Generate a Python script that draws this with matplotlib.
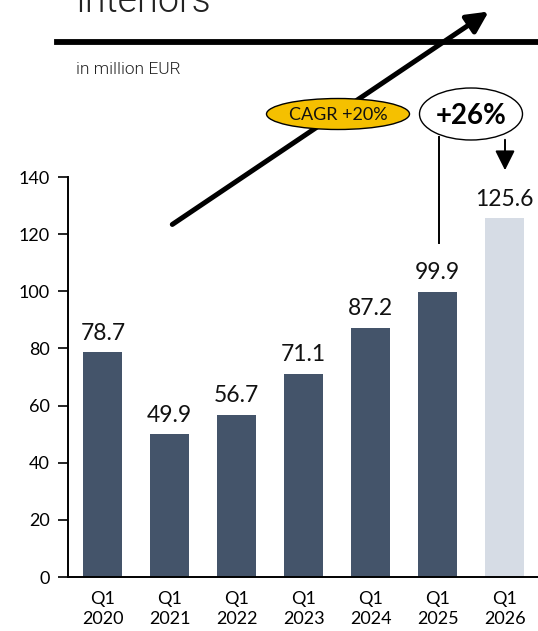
import matplotlib.pyplot as plt
from matplotlib.patches import Ellipse, FancyArrowPatch
from matplotlib.lines import Line2D

# data
quarters = ['Q1\n2020', 'Q1\n2021', 'Q1\n2022', 'Q1\n2023', 'Q1\n2024', 'Q1\n2025', 'Q1\n2026']
revenue = [78.7, 49.9, 56.7, 71.1, 87.2, 99.9, 125.6]
value_labels = ['78.7', '49.9', '56.7', '71.1', '87.2', '99.9', '125.6']
y_ticks = [0, 20, 40, 60, 80, 100, 120, 140]
cagr_text = 'CAGR +20%'
growth_text = '+26%'

dark = '#44546A'
light = '#D6DCE5'
gold = '#F5C000'

W, H = 538, 631
plt.rcParams['font.family'] = ['Lato', 'DejaVu Sans']

fig = plt.figure(figsize=(W / 100, H / 100), dpi=100)
ax = fig.add_axes([68 / W, 1 - 577 / H, 1 - 68 / W, (577 - 177) / H])


def px(x, y):
    # pixel position (top-left origin) -> figure fraction
    return x / W, 1 - y / H


colors = [dark] * (len(revenue) - 1) + [light]
xs = list(range(len(revenue)))
ax.bar(xs, revenue, width=0.58, color=colors, zorder=2)

for x, v, lab in zip(xs, revenue, value_labels):
    ax.annotate(lab, (x, v), xytext=(0, 9), textcoords='offset points',
                ha='center', va='baseline', fontsize=16.5, color='#111111')

ax.set_xlim(-0.52, 6.5)
ax.set_ylim(0, 140)
ax.set_yticks(y_ticks)
ax.set_xticks(xs)
ax.set_xticklabels(quarters, fontsize=13, linespacing=1.3)
ax.tick_params(axis='x', length=0, pad=10)
ax.tick_params(axis='y', length=7, width=1.2, labelsize=13, pad=6)
for s in ['top', 'right']:
    ax.spines[s].set_visible(False)
for s in ['left', 'bottom']:
    ax.spines[s].set_linewidth(1.4)
    ax.spines[s].set_color('black')

# header
fig.text(*px(75, 12), 'Interiors', family='Roboto', fontsize=27, fontweight=300,
         color='#222222', ha='left', va='baseline')
fig.add_artist(Line2D([57 / W, 1], [1 - 41.5 / H] * 2, transform=fig.transFigure,
                      color='black', lw=4.2))
fig.text(*px(76, 74), 'in million EUR', family='Roboto', fontsize=12.5, fontweight=300,
         color='#222222', ha='left', va='baseline')

# big growth arrow
fig.add_artist(FancyArrowPatch(px(170, 226), px(491, 10), transform=fig.transFigure,
                               arrowstyle='-|>,head_length=8,head_width=4',
                               mutation_scale=1.6, lw=3.6, color='black', zorder=5))

# CAGR ellipse
cx, cy = px(338, 114)
fig.add_artist(Ellipse((cx, cy), 143 / W, 31 / H, transform=fig.transFigure,
                       facecolor=gold, edgecolor='black', lw=1.0, zorder=6))
fig.text(cx, cy, cagr_text, fontsize=13, ha='center', va='center_baseline',
         color='#111111', zorder=7)

# +26% ellipse with connectors
ex, ey = px(471, 114)
fig.add_artist(Ellipse((ex, ey), 103 / W, 52 / H, transform=fig.transFigure,
                       facecolor='white', edgecolor='black', lw=1.0, zorder=6))
fig.text(ex, ey, growth_text, fontsize=20, fontweight='bold', ha='center',
         va='center_baseline', color='black', zorder=7)
fig.add_artist(Line2D([439 / W] * 2, [1 - 137 / H, 1 - 243 / H],
                      transform=fig.transFigure, color='black', lw=1.4))
fig.add_artist(FancyArrowPatch(px(505, 137), px(505, 173), transform=fig.transFigure,
                               arrowstyle='-|>,head_length=12,head_width=6',
                               mutation_scale=1.0, lw=1.4, color='black'))

fig.savefig('out.png', dpi=100)
